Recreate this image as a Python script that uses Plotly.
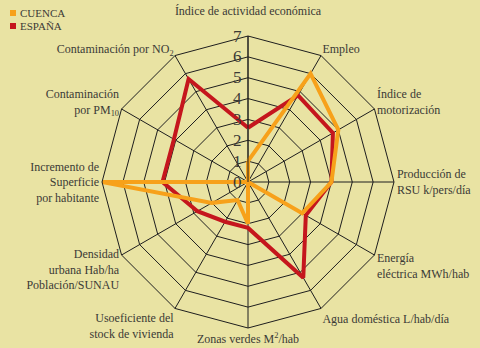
import plotly.graph_objects as go

# Indicator axes, clockwise from the top
categories = [
    "Índice de actividad económica<br> ",
    "Empleo",
    "Índice de<br>motorización",
    "Producción de<br>RSU k/pers/día",
    "Energía<br>eléctrica MWh/hab",
    "Agua doméstica L/hab/día",
    "Zonas verdes M<sup>2</sup>/hab",
    "Usoeficiente del<br>stock de vivienda",
    "Densidad<br>urbana Hab/ha<br>Población/SUNAU",
    "Incremento de<br>Superficie<br>por habitante",
    "Contaminación<br>por PM<sub>10</sub>",
    "Contaminación por NO<sub>2</sub>",
]

cuenca = [1, 6, 5, 4, 3, 0, 2, 1, 2, 7, 0, 0]
espana = [2.6, 4.8, 4.7, 4.0, 3.2, 5.3, 2.2, 2.2, 2.8, 4.1, 4.1, 5.7]

radial_ticks = [0, 1, 2, 3, 4, 5, 6, 7]

series_names = ["ESPAÑA", "CUENCA"]
series_values = [espana, cuenca]
series_colors = ["#C5161D", "#F7A11A"]

BG = "#E9E3A3"
TEXT = "#3B3A36"
FONT = "'Liberation Serif', 'DejaVu Serif', serif"

fig = go.Figure()
for name, vals, color in zip(series_names, series_values, series_colors):
    fig.add_trace(go.Scatterpolar(
        r=vals + vals[:1],
        theta=categories + categories[:1],
        mode="lines",
        name=name,
        line=dict(color=color, width=4),
        hoverinfo="skip",
    ))

fig.update_layout(
    width=480, height=348,
    margin=dict(l=16, r=0, t=36, b=20),
    paper_bgcolor=BG,
    plot_bgcolor=BG,
    showlegend=False,
    font=dict(family=FONT, color=TEXT, size=12),
    polar=dict(
        bgcolor=BG,
        gridshape="linear",
        angularaxis=dict(
            direction="clockwise",
            rotation=90,
            showline=True,
            linecolor="#1E1E1E",
            linewidth=1,
            gridcolor="#1E1E1E",
            gridwidth=1,
            ticks="",
            tickfont=dict(family=FONT, size=12, color=TEXT),
        ),
        radialaxis=dict(
            range=[0, 7],
            tickvals=radial_ticks,
            angle=90,
            tickangle=90,
            side="counterclockwise",
            showline=True,
            linecolor="#1E1E1E",
            linewidth=1,
            gridcolor="#1E1E1E",
            gridwidth=1,
            ticks="",
            tickfont=dict(family=FONT, size=17, color=TEXT),
        ),
    ),
)

# Legend: colour swatches with their series names
legend_rows = [("CUENCA", "#F7A11A"), ("ESPAÑA", "#C5161D")]
for i, (label, color) in enumerate(legend_rows):
    y0 = 10 + i * 13
    fig.add_shape(type="rect", xref="paper", yref="paper",
                  x0=10 / 464 - 16 / 464, x1=16 / 464 - 16 / 464,
                  y0=1 - (y0 + 6 - 36) / 292, y1=1 - (y0 - 36) / 292,
                  fillcolor=color, line=dict(width=0))
    fig.add_annotation(text=label, xref="paper", yref="paper",
                       x=18 / 464 - 16 / 464, y=1 - (y0 + 3 - 36) / 292,
                       xanchor="left", yanchor="middle", showarrow=False,
                       font=dict(family=FONT, size=11, color=TEXT))

fig.write_html("out.html")
